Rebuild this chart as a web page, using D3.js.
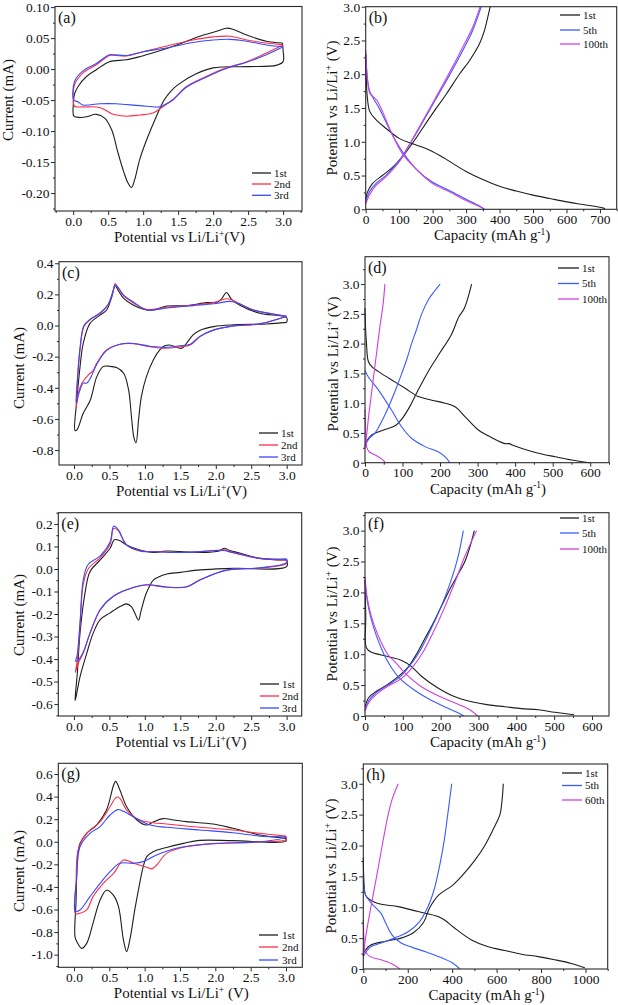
<!DOCTYPE html>
<html><head><meta charset="utf-8">
<script src="https://cdn.jsdelivr.net/npm/d3@7"></script>
<style>body{margin:0;background:#fff}svg{display:block}svg text{font-family:"Liberation Serif","DejaVu Serif","Times New Roman",serif}</style>
</head><body><svg id="c" width="618" height="1005"></svg>
<script>
// ---------------- DATA ----------------
// (a) CV curves [potential V, current mA]
const a1st = [[2.99,0.042],[3.0,0.03],[3.0,0.012],[2.9,0.006],[2.5,0.004],[2.0,0.002],[1.75,-0.008],[1.5,-0.025],[1.4,-0.035],[1.3,-0.05],[1.19,-0.076],[1.05,-0.114],[0.95,-0.146],[0.88,-0.178],[0.833,-0.191],[0.78,-0.183],[0.72,-0.165],[0.64,-0.135],[0.55,-0.098],[0.45,-0.079],[0.33,-0.073],[0.19,-0.077],[0.1,-0.078],[0.01,-0.076],[0.0,-0.06],[0.02,-0.04],[0.07,-0.028],[0.19,-0.012],[0.33,-0.001],[0.52,0.012],[0.76,0.015],[0.95,0.020],[1.19,0.028],[1.48,0.039],[1.81,0.053],[2.05,0.061],[2.19,0.066],[2.29,0.064],[2.48,0.055],[2.76,0.045],[2.99,0.042]];
const a2nd = [[3.0,0.039],[2.76,0.026],[2.48,0.012],[2.19,0.002],[1.9,-0.012],[1.62,-0.028],[1.43,-0.049],[1.29,-0.06],[1.14,-0.071],[0.95,-0.074],[0.76,-0.076],[0.57,-0.073],[0.38,-0.062],[0.14,-0.061],[0.02,-0.06],[0.0,-0.05],[0.02,-0.025],[0.14,-0.006],[0.33,0.007],[0.52,0.022],[0.6,0.022],[0.76,0.021],[1.0,0.028],[1.33,0.037],[1.71,0.047],[2.0,0.052],[2.24,0.053],[2.48,0.047],[2.76,0.042],[3.0,0.039]];
const a3rd = [[3.0,0.036],[2.76,0.023],[2.48,0.011],[2.19,0.001],[1.9,-0.013],[1.62,-0.029],[1.43,-0.049],[1.3,-0.058],[1.24,-0.061],[0.95,-0.059],[0.62,-0.056],[0.38,-0.056],[0.14,-0.058],[0.07,-0.053],[0.01,-0.05],[0.02,-0.02],[0.14,-0.003],[0.33,0.009],[0.52,0.023],[0.6,0.023],[0.76,0.022],[1.0,0.028],[1.33,0.034],[1.71,0.043],[2.0,0.047],[2.24,0.048],[2.48,0.045],[2.76,0.039],[3.0,0.036]];
// (c)
const c1st = [[3.0,0.02],[2.72,0.01],[2.25,0.004],[1.97,-0.007],[1.78,-0.03],[1.68,-0.06],[1.61,-0.1],[1.52,-0.146],[1.45,-0.14],[1.35,-0.125],[1.28,-0.13],[1.21,-0.157],[1.12,-0.22],[1.02,-0.33],[0.95,-0.457],[0.91,-0.607],[0.875,-0.753],[0.845,-0.72],[0.81,-0.586],[0.77,-0.414],[0.7,-0.307],[0.6,-0.27],[0.5,-0.262],[0.41,-0.264],[0.32,-0.33],[0.23,-0.478],[0.13,-0.564],[0.04,-0.671],[0.014,-0.675],[0.04,-0.478],[0.085,-0.264],[0.13,-0.114],[0.226,0.014],[0.37,0.068],[0.46,0.1],[0.53,0.18],[0.58,0.255],[0.63,0.22],[0.7,0.175],[0.84,0.13],[0.98,0.105],[1.12,0.1],[1.31,0.125],[1.59,0.128],[1.87,0.147],[2.01,0.15],[2.08,0.17],[2.15,0.212],[2.22,0.17],[2.34,0.13],[2.62,0.079],[3.0,0.05],[3.0,0.02]];
const c2nd = [[3.0,0.06],[2.62,0.01],[2.25,-0.003],[1.97,-0.03],[1.78,-0.07],[1.64,-0.125],[1.49,-0.136],[1.31,-0.146],[1.07,-0.136],[0.84,-0.116],[0.65,-0.12],[0.46,-0.157],[0.32,-0.243],[0.27,-0.29],[0.2,-0.318],[0.11,-0.371],[0.06,-0.436],[0.03,-0.53],[0.047,-0.371],[0.085,-0.157],[0.14,-0.007],[0.226,0.036],[0.37,0.079],[0.48,0.132],[0.555,0.23],[0.58,0.27],[0.63,0.235],[0.7,0.19],[0.84,0.145],[1.02,0.104],[1.31,0.117],[1.68,0.132],[1.97,0.147],[2.15,0.172],[2.22,0.165],[2.53,0.1],[3.0,0.06]];
const c3rd = [[3.0,0.06],[2.62,0.012],[2.25,-0.002],[1.97,-0.028],[1.78,-0.068],[1.64,-0.12],[1.49,-0.13],[1.31,-0.14],[1.07,-0.133],[0.84,-0.115],[0.65,-0.12],[0.46,-0.16],[0.32,-0.25],[0.24,-0.33],[0.18,-0.37],[0.13,-0.37],[0.08,-0.42],[0.03,-0.5],[0.047,-0.35],[0.085,-0.14],[0.14,0.0],[0.226,0.04],[0.37,0.082],[0.48,0.135],[0.555,0.225],[0.58,0.26],[0.63,0.24],[0.7,0.195],[0.84,0.15],[1.02,0.1],[1.31,0.113],[1.68,0.128],[1.97,0.14],[2.2,0.155],[2.3,0.145],[2.53,0.1],[3.0,0.06]];
// (e)
const e1st = [[3.0,0.04],[3.0,0.01],[2.25,0.003],[1.78,-0.004],[1.5,-0.015],[1.31,-0.022],[1.2,-0.035],[1.12,-0.049],[1.02,-0.108],[0.95,-0.182],[0.91,-0.227],[0.86,-0.197],[0.81,-0.167],[0.74,-0.155],[0.65,-0.167],[0.51,-0.195],[0.37,-0.225],[0.27,-0.286],[0.18,-0.375],[0.085,-0.479],[0.03,-0.567],[0.015,-0.585],[0.047,-0.464],[0.085,-0.286],[0.155,-0.108],[0.226,-0.012],[0.37,0.04],[0.51,0.092],[0.57,0.13],[0.65,0.125],[0.74,0.107],[0.93,0.084],[1.12,0.073],[1.31,0.08],[1.78,0.073],[2.05,0.08],[2.12,0.092],[2.2,0.082],[2.35,0.07],[2.62,0.047],[3.0,0.04]];
const e2nd = [[3.0,0.04],[3.0,0.025],[2.62,0.004],[2.15,-0.006],[1.78,-0.049],[1.59,-0.08],[1.31,-0.081],[1.02,-0.071],[0.74,-0.093],[0.55,-0.123],[0.37,-0.182],[0.226,-0.286],[0.13,-0.375],[0.06,-0.419],[0.02,-0.46],[0.047,-0.404],[0.085,-0.256],[0.13,-0.07],[0.2,0.0],[0.37,0.05],[0.51,0.11],[0.56,0.18],[0.625,0.17],[0.74,0.107],[0.93,0.081],[1.17,0.077],[1.54,0.073],[2.01,0.083],[2.12,0.085],[2.2,0.077],[2.62,0.047],[3.0,0.04]];
const e3rd = [[3.0,0.045],[3.0,0.028],[2.62,0.005],[2.15,-0.005],[1.78,-0.048],[1.59,-0.079],[1.31,-0.08],[1.02,-0.07],[0.74,-0.092],[0.55,-0.122],[0.37,-0.18],[0.226,-0.285],[0.13,-0.37],[0.06,-0.405],[0.025,-0.41],[0.047,-0.38],[0.085,-0.24],[0.13,-0.05],[0.2,0.02],[0.37,0.058],[0.51,0.12],[0.56,0.19],[0.625,0.175],[0.74,0.108],[0.93,0.08],[1.17,0.076],[1.54,0.073],[2.01,0.082],[2.12,0.082],[2.2,0.076],[2.62,0.047],[3.0,0.045]];
// (g)
const g1st = [[3.0,0.03],[3.0,0.005],[2.25,0.01],[1.78,0.012],[1.55,-0.014],[1.31,-0.05],[1.12,-0.088],[1.03,-0.132],[0.98,-0.22],[0.93,-0.368],[0.86,-0.604],[0.79,-0.87],[0.745,-0.973],[0.70,-0.87],[0.63,-0.575],[0.56,-0.475],[0.46,-0.43],[0.37,-0.516],[0.27,-0.72],[0.18,-0.9],[0.11,-0.944],[0.04,-0.885],[0.014,-0.84],[0.03,-0.516],[0.047,-0.16],[0.085,-0.014],[0.18,0.075],[0.32,0.148],[0.46,0.281],[0.56,0.5],[0.59,0.535],[0.65,0.458],[0.745,0.31],[0.89,0.193],[1.03,0.148],[1.12,0.175],[1.26,0.205],[1.41,0.193],[1.59,0.178],[1.97,0.157],[2.25,0.119],[2.63,0.06],[3.0,0.03]];
const g2nd = [[3.0,0.05],[3.0,0.02],[2.63,0.0],[2.02,-0.014],[1.59,-0.044],[1.31,-0.103],[1.17,-0.206],[1.1,-0.24],[1.03,-0.225],[0.89,-0.2],[0.79,-0.176],[0.70,-0.162],[0.56,-0.28],[0.415,-0.368],[0.27,-0.486],[0.18,-0.604],[0.085,-0.634],[0.02,-0.634],[0.03,-0.368],[0.06,-0.07],[0.18,0.075],[0.37,0.178],[0.51,0.31],[0.6,0.395],[0.65,0.384],[0.745,0.281],[0.93,0.193],[1.12,0.169],[1.31,0.157],[1.78,0.128],[2.25,0.104],[2.63,0.075],[3.0,0.05]];
const g3rd = [[3.0,0.045],[3.0,0.04],[2.63,0.0],[1.88,-0.02],[1.45,-0.058],[1.17,-0.117],[0.98,-0.176],[0.84,-0.191],[0.65,-0.191],[0.51,-0.265],[0.37,-0.368],[0.226,-0.486],[0.085,-0.604],[0.02,-0.615],[0.04,-0.31],[0.085,-0.044],[0.226,0.075],[0.37,0.134],[0.51,0.237],[0.62,0.285],[0.70,0.27],[0.84,0.222],[1.08,0.148],[1.31,0.128],[1.78,0.104],[2.25,0.08],[2.63,0.05],[3.0,0.045]];

// Charge/discharge curves [capacity mAh/g, potential V]
const b1stDis = [[0,2.3],[2,1.9],[5,1.65],[12,1.45],[30,1.33],[60,1.2],[100,1.05],[140,0.97],[180,0.9],[220,0.8],[260,0.68],[300,0.56],[350,0.44],[400,0.34],[450,0.27],[500,0.21],[550,0.16],[600,0.11],[650,0.07],[700,0.03],[715,0.01]];
const b1stChg = [[0,0.15],[5,0.25],[20,0.38],[50,0.5],[80,0.62],[110,0.78],[140,0.98],[170,1.2],[200,1.42],[240,1.7],[280,2.0],[310,2.2],[340,2.45],[355,2.65],[365,2.85],[372,3.0]];
const b5thDis = [[0,2.3],[4,2.0],[12,1.75],[40,1.5],[80,1.1],[110,0.85],[150,0.6],[200,0.4],[250,0.28],[300,0.15],[340,0.05],[355,0.0]];
const b5thChg = [[0,0.1],[10,0.25],[30,0.38],[60,0.5],[100,0.72],[130,0.95],[160,1.2],[200,1.55],[250,1.98],[290,2.35],[320,2.65],[345,3.0]];
const b100thDis = [[0,2.35],[4,2.0],[12,1.72],[20,1.68],[35,1.6],[50,1.45],[80,1.1],[110,0.82],[150,0.6],[200,0.38],[250,0.26],[300,0.13],[350,0.02]];
const b100thChg = [[0,0.08],[10,0.2],[30,0.35],[60,0.48],[100,0.7],[130,0.95],[160,1.22],[200,1.57],[250,2.02],[290,2.4],[320,2.7],[342,3.0]];

const d1stDis = [[0,2.6],[2,2.2],[4,2.0],[9,1.7],[20,1.6],[36,1.53],[71,1.39],[107,1.25],[142,1.11],[178,1.05],[213,1.0],[240,0.94],[267,0.77],[302,0.55],[338,0.42],[373,0.32],[385,0.32],[391,0.3],[418,0.24],[462,0.16],[507,0.1],[551,0.045],[598,0.0]];
const d1stChg = [[0,0.3],[15,0.45],[50,0.55],[80,0.62],[100,0.75],[120,0.95],[140,1.2],[170,1.55],[200,1.85],[230,2.15],[250,2.45],[265,2.6],[284,3.0]];
const d5thDis = [[0,1.55],[9,1.44],[36,1.22],[71,0.88],[98,0.6],[124,0.41],[160,0.27],[196,0.18],[215,0.09],[226,0.0]];
const d5thChg = [[0,0.28],[10,0.4],[27,0.5],[45,0.7],[67,1.0],[83,1.25],[98,1.5],[112,1.75],[124,2.0],[138,2.25],[151,2.5],[170,2.75],[185,2.88],[200,3.0]];
const d100thDis = [[0,0.9],[2,0.5],[5,0.25],[12,0.18],[30,0.12],[45,0.06],[55,0.0]];
const d100thChg = [[0,0.25],[5,0.5],[10,0.8],[20,1.3],[30,1.8],[40,2.3],[48,2.65],[53,3.0]];

const f1stDis = [[0,2.2],[2,1.6],[4,1.1],[18,1.03],[62,0.96],[97,0.9],[123,0.8],[150,0.64],[194,0.45],[238,0.31],[282,0.23],[326,0.18],[370,0.15],[414,0.12],[458,0.1],[502,0.06],[553,0.02]];
const f1stChg = [[0,0.15],[10,0.3],[30,0.4],[57,0.5],[90,0.65],[115,0.8],[136,1.0],[158,1.25],[180,1.5],[200,1.75],[220,2.0],[242,2.25],[264,2.5],[278,2.75],[289,3.0]];
const f5thDis = [[0,2.2],[5,1.9],[15,1.6],[30,1.3],[50,1.0],[70,0.78],[90,0.62],[130,0.42],[170,0.27],[210,0.15],[240,0.07],[262,0.0]];
const f5thChg = [[0,0.1],[10,0.25],[30,0.38],[60,0.5],[90,0.62],[110,0.75],[140,1.0],[170,1.35],[200,1.75],[225,2.15],[245,2.55],[260,3.0]];
const f100thDis = [[0,2.25],[5,1.95],[15,1.65],[35,1.3],[60,1.0],[80,0.87],[110,0.67],[150,0.47],[200,0.31],[250,0.18],[280,0.09],[298,0.0]];
const f100thChg = [[0,0.08],[10,0.22],[30,0.35],[60,0.48],[95,0.6],[120,0.75],[150,1.0],[180,1.35],[210,1.75],[240,2.2],[265,2.6],[295,3.0]];

const h1stDis = [[0,1.8],[3,1.4],[8,1.22],[15,1.17],[67,1.06],[157,1.01],[247,0.93],[337,0.85],[367,0.79],[412,0.66],[487,0.47],[562,0.36],[637,0.3],[712,0.24],[787,0.2],[862,0.15],[937,0.09],[997,0.02]];
const h1stChg = [[0,0.25],[30,0.38],[100,0.45],[170,0.5],[230,0.6],[270,0.75],[300,1.0],[340,1.2],[400,1.35],[442,1.5],[500,1.75],[547,2.0],[590,2.3],[615,2.5],[625,2.75],[630,3.0]];
const h5thDis = [[0,1.45],[10,1.2],[40,1.05],[80,0.9],[100,0.75],[130,0.55],[170,0.42],[220,0.35],[280,0.28],[340,0.2],[400,0.1],[435,0.0]];
const h5thChg = [[0,0.2],[30,0.35],[80,0.42],[140,0.5],[200,0.6],[250,0.75],[290,1.0],[320,1.3],[345,1.7],[365,2.1],[380,2.5],[398,3.0]];
const h60thDis = [[0,0.8],[3,0.5],[8,0.3],[30,0.2],[80,0.15],[130,0.08],[165,0.0]];
const h60thChg = [[0,0.2],[10,0.5],[34,1.0],[60,1.5],[85,2.0],[112,2.5],[130,2.75],[157,3.0]];

// tick labels
const cvXTicks = [0.0,0.5,1.0,1.5,2.0,2.5,3.0];
const aYTicks = [-0.20,-0.15,-0.10,-0.05,0.00,0.05,0.10];
const cYTicks = [-0.8,-0.6,-0.4,-0.2,0.0,0.2,0.4];
const eYTicks = [-0.6,-0.5,-0.4,-0.3,-0.2,-0.1,0.0,0.1,0.2];
const gYTicks = [-1.0,-0.8,-0.6,-0.4,-0.2,0.0,0.2,0.4,0.6];
const gcdYTicks = [0,0.5,1.0,1.5,2.0,2.5,3.0];
const bXTicks = [0,100,200,300,400,500,600,700];
const dXTicks = [0,100,200,300,400,500,600];
const hXTicks = [0,200,400,600,800,1000];
const cvLegend = ["1st","2nd","3rd"];
const gcdLegend = ["1st","5th","100th"];
const hLegend = ["1st","5th","60th"];

// ---------------- DRAW ----------------
const FONT = '"Liberation Serif","DejaVu Serif","Times New Roman",serif';
const svg = d3.select("#c");
const K = "#1e1e1e", R = "#ff2e48", B = "#3848ff", GB = "#3a5bff", M = "#d23ee0";

function fmtSigned(dec){ return d => { const s = Math.abs(d).toFixed(dec); return (d < -1e-9 ? "-" : "") + s; }; }
const fmtGcdY = d => d === 0 ? "0" : d.toFixed(1);

function minorOf(major, dom){
  const step = (major[1]-major[0])/2;
  const out = [];
  const lo = Math.min(dom[0],dom[1]), hi = Math.max(dom[0],dom[1]);
  for (let v = major[0]-step*20; v <= hi+1e-9; v += step){
    const r = +v.toFixed(6);
    if (r >= lo-1e-9 && r <= hi+1e-9 && !major.some(m => Math.abs(m-r) < 1e-9)) out.push(r);
  }
  return out;
}

function richText(sel, parts, supSize){
  let raised = false;
  parts.forEach(p => {
    const t = sel.append("tspan").text(p.t);
    if (p.sup){ t.attr("font-size", supSize).attr("dy", -5.5); raised = true; }
    else if (raised){ t.attr("dy", 5.5); raised = false; }
  });
}

function panel(cfg){
  const g = svg.append("g");
  const x = d3.scaleLinear().domain(cfg.xd).range([cfg.L, cfg.R]);
  const y = d3.scaleLinear().domain(cfg.yd).range([cfg.B, cfg.T]);

  const line = d3.line().x(d => x(d[0])).y(d => y(d[1])).curve(d3.curveCatmullRom.alpha(0.5));
  cfg.series.forEach(s => {
    g.append("path").datum(s.data).attr("d", line).attr("fill","none")
      .attr("stroke", s.color).attr("stroke-width", s.w || 1.1).attr("stroke-linejoin","round");
  });

  g.append("rect").attr("x",cfg.L).attr("y",cfg.T).attr("width",cfg.R-cfg.L).attr("height",cfg.B-cfg.T)
    .attr("fill","none").attr("stroke","#2a2a2a").attr("stroke-width",1.1);

  const ax = g.append("g").attr("transform",`translate(0,${cfg.B})`)
    .call(d3.axisBottom(x).tickValues(cfg.xt).tickFormat(cfg.xf).tickSize(4).tickSizeOuter(0).tickPadding(1));
  const axm = g.append("g").attr("transform",`translate(0,${cfg.B})`)
    .call(d3.axisBottom(x).tickValues(minorOf(cfg.xt, cfg.xd)).tickFormat("").tickSize(2).tickSizeOuter(0));
  const ay = g.append("g").attr("transform",`translate(${cfg.L},0)`)
    .call(d3.axisLeft(y).tickValues(cfg.yt).tickFormat(cfg.yf).tickSize(4).tickSizeOuter(0).tickPadding(1.5));
  const aym = g.append("g").attr("transform",`translate(${cfg.L},0)`)
    .call(d3.axisLeft(y).tickValues(minorOf(cfg.yt, cfg.yd)).tickFormat("").tickSize(2).tickSizeOuter(0));
  [ax,axm,ay,aym].forEach(a => {
    a.attr("font-family", FONT).attr("font-size", 13.5);
    a.select(".domain").remove();
    a.selectAll("line").attr("stroke","#2a2a2a").attr("stroke-width",1);
    a.selectAll("text").attr("fill","#111").style("font-family",FONT).style("font-size","13.5px");
  });

  g.append("text").attr("x",cfg.L+3).attr("y",cfg.T+16).attr("font-size",16).attr("fill","#111").text(cfg.label);

  const xt = g.append("text").attr("x",(cfg.L+cfg.R)/2+1).attr("y",cfg.B+31)
    .attr("text-anchor","middle").attr("font-size",15).attr("fill","#111");
  richText(xt, cfg.xtitle, 9.5);
  const yt = g.append("text").attr("transform",`translate(${cfg.ytx},${cfg.ytc}) rotate(-90)`)
    .attr("text-anchor","middle").attr("font-size",15).attr("fill","#111");
  richText(yt, cfg.ytitle, 9.5);

  const lg = cfg.legend;
  lg.names.forEach((n,i) => {
    const yy = lg.ys[i];
    g.append("line").attr("x1",lg.x1).attr("x2",lg.x2).attr("y1",yy).attr("y2",yy)
      .attr("stroke",lg.colors[i]).attr("stroke-width",1.3);
    g.append("text").attr("x",lg.tx).attr("y",yy+3.6).attr("font-size",11).attr("fill","#111").text(n);
  });
}

const cvX = [{t:"Potential vs Li/Li"},{t:"+",sup:true},{t:"(V)"}];
const cvXg = [{t:"Potential vs Li/Li"},{t:"+",sup:true},{t:" (V)"}];
const cvY = [{t:"Current (mA)"}];
const gcdX = [{t:"Capacity (mAh g"},{t:"-1",sup:true},{t:")"}];
const gcdY = [{t:"Potential vs Li/Li"},{t:"+",sup:true},{t:" (V)"}];
const f1 = fmtSigned(1), f2 = fmtSigned(2);

panel({label:"(a)", L:55,R:302,T:6.5,B:211, xd:[-0.26,3.27], yd:[-0.229,0.101],
  xt:cvXTicks, xf:f1, yt:aYTicks, yf:f2, xtitle:cvX, ytitle:cvY, ytx:12.5, ytc:100,
  series:[{data:a1st,color:K},{data:a2nd,color:R},{data:a3rd,color:B}],
  legend:{names:cvLegend, colors:[K,R,B], x1:252,x2:271,tx:274, ys:[173,184,195.3]}});
panel({label:"(b)", L:365.7,R:616.7,T:6.7,B:209.3, xd:[0,750], yd:[0,3.0],
  xt:bXTicks, xf:d=>String(d), yt:gcdYTicks, yf:fmtGcdY, xtitle:gcdX, ytitle:gcdY, ytx:337, ytc:108,
  series:[{data:b1stDis,color:K},{data:b1stChg,color:K},{data:b5thDis,color:GB},{data:b5thChg,color:GB},{data:b100thDis,color:M},{data:b100thChg,color:M}],
  legend:{names:gcdLegend, colors:[K,GB,M], x1:560,x2:580,tx:583, ys:[15,30,44]}});
panel({label:"(c)", L:59,R:302,T:261.7,B:465, xd:[-0.212,3.216], yd:[-0.896,0.41],
  xt:cvXTicks, xf:f1, yt:cYTicks, yf:f1, xtitle:cvX, ytitle:cvY, ytx:24, ytc:368,
  series:[{data:c1st,color:K},{data:c2nd,color:R},{data:c3rd,color:B}],
  legend:{names:cvLegend, colors:[K,R,B], x1:259,x2:278,tx:281, ys:[433,445,457]}});
panel({label:"(d)", L:365,R:609,T:256.7,B:462.7, xd:[0,650], yd:[0,3.46],
  xt:dXTicks, xf:d=>String(d), yt:gcdYTicks, yf:fmtGcdY, xtitle:gcdX, ytitle:gcdY, ytx:338, ytc:364,
  series:[{data:d1stDis,color:K},{data:d1stChg,color:K},{data:d5thDis,color:GB},{data:d5thChg,color:GB},{data:d100thDis,color:M},{data:d100thChg,color:M}],
  legend:{names:gcdLegend, colors:[K,GB,M], x1:558,x2:579,tx:582, ys:[268,283.5,299]}});
panel({label:"(e)", L:58.3,R:301.7,T:512.7,B:716, xd:[-0.221,3.213], yd:[-0.653,0.25],
  xt:cvXTicks, xf:f1, yt:eYTicks, yf:f1, xtitle:cvX, ytitle:cvY, ytx:24, ytc:615,
  series:[{data:e1st,color:K},{data:e2nd,color:R},{data:e3rd,color:B}],
  legend:{names:cvLegend, colors:[K,R,B], x1:260,x2:279,tx:282, ys:[684,696,708]}});
panel({label:"(f)", L:365,R:609,T:512.7,B:716, xd:[0,645], yd:[0,3.29],
  xt:dXTicks, xf:d=>String(d), yt:gcdYTicks, yf:fmtGcdY, xtitle:gcdX, ytitle:gcdY, ytx:337, ytc:614,
  series:[{data:f1stDis,color:K},{data:f1stChg,color:K},{data:f5thDis,color:GB},{data:f5thChg,color:GB},{data:f100thDis,color:M},{data:f100thChg,color:M}],
  legend:{names:gcdLegend, colors:[K,GB,M], x1:560,x2:579,tx:582, ys:[518,533,549]}});
panel({label:"(g)", L:58.3,R:302.3,T:763.3,B:967.3, xd:[-0.222,3.231], yd:[-1.112,0.695],
  xt:cvXTicks, xf:f1, yt:gYTicks, yf:f1, xtitle:cvXg, ytitle:cvY, ytx:24, ytc:871,
  series:[{data:g1st,color:K},{data:g2nd,color:R},{data:g3rd,color:B}],
  legend:{names:cvLegend, colors:[K,R,B], x1:259,x2:278,tx:282, ys:[935,947,960]}});
panel({label:"(h)", L:363.3,R:607.7,T:764,B:969, xd:[0,1100], yd:[0,3.32],
  xt:hXTicks, xf:d=>String(d), yt:gcdYTicks, yf:fmtGcdY, xtitle:gcdX, ytitle:gcdY, ytx:336, ytc:866,
  series:[{data:h1stDis,color:K},{data:h1stChg,color:K},{data:h5thDis,color:GB},{data:h5thChg,color:GB},{data:h60thDis,color:M},{data:h60thChg,color:M}],
  legend:{names:hLegend, colors:[K,GB,M], x1:562,x2:582,tx:585, ys:[773,785.5,800]}});
</script></body></html>
